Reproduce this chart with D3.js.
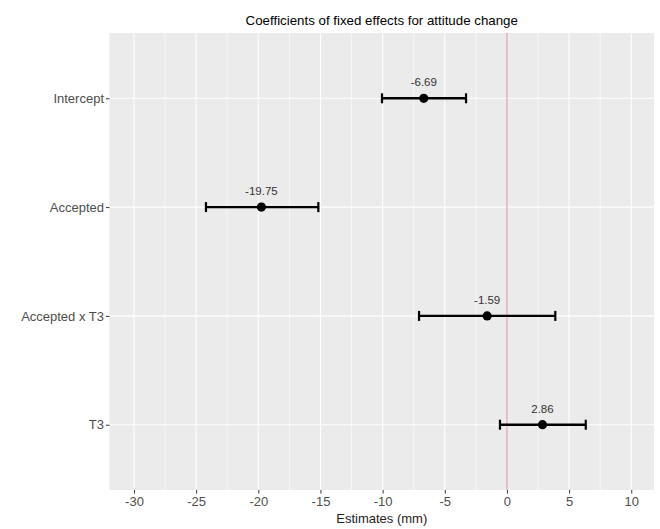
<!DOCTYPE html>
<html>
<head>
<meta charset="utf-8">
<script src="https://cdn.jsdelivr.net/npm/d3@7"></script>
<style>
  html, body { margin: 0; padding: 0; background: #fff; }
  svg { display: block; font-family: "Liberation Sans", Arial, sans-serif; }
</style>
</head>
<body>
<svg id="chart" width="660" height="529"></svg>
<script>
const categories = ["Intercept", "Accepted", "Accepted x T3", "T3"];
const estimates = [-6.69, -19.75, -1.59, 2.86];
const lower = [-10.05, -24.21, -7.07, -0.56];
const upper = [-3.29, -15.17, 3.89, 6.34];
const xTicks = [-30, -25, -20, -15, -10, -5, 0, 5, 10];
const xMinor = [-27.5, -22.5, -17.5, -12.5, -7.5, -2.5, 2.5, 7.5];
const titleText = "Coefficients of fixed effects for attitude change";
const xLabel = "Estimates (mm)";

const data = categories.map((c, i) => ({ cat: c, est: estimates[i], lo: lower[i], hi: upper[i] }));

const svg = d3.select("#chart");
const panel = { left: 109.5, right: 654, top: 33, bottom: 490 };

const x = d3.scaleLinear().domain([-31.97, 11.83]).range([panel.left, panel.right]);
const y = d3.scalePoint().domain(categories).range([panel.top, panel.bottom]).padding(0.6);

// panel background
svg.append("rect")
  .attr("x", panel.left).attr("y", panel.top)
  .attr("width", panel.right - panel.left).attr("height", panel.bottom - panel.top)
  .attr("fill", "#EBEBEB");

// minor grid
svg.append("g").selectAll("line").data(xMinor).join("line")
  .attr("x1", d => x(d)).attr("x2", d => x(d))
  .attr("y1", panel.top).attr("y2", panel.bottom)
  .attr("stroke", "#fff").attr("stroke-width", 0.6);

// major grid vertical
svg.append("g").selectAll("line").data(xTicks).join("line")
  .attr("x1", d => x(d)).attr("x2", d => x(d))
  .attr("y1", panel.top).attr("y2", panel.bottom)
  .attr("stroke", "#fff").attr("stroke-width", 1.1);

// major grid horizontal
svg.append("g").selectAll("line").data(categories).join("line")
  .attr("x1", panel.left).attr("x2", panel.right)
  .attr("y1", d => y(d)).attr("y2", d => y(d))
  .attr("stroke", "#fff").attr("stroke-width", 1.1);

// zero reference line
svg.append("line")
  .attr("x1", x(0)).attr("x2", x(0))
  .attr("y1", panel.top).attr("y2", panel.bottom)
  .attr("stroke", "#E3AEB5").attr("stroke-width", 1.5);

// axes
const xAxis = d3.axisBottom(x).tickValues(xTicks).tickSize(3.5).tickPadding(3)
  .tickFormat(d => d < 0 ? "-" + Math.abs(d) : String(d));
const gx = svg.append("g").attr("transform", `translate(0,${panel.bottom})`).call(xAxis);
gx.select(".domain").remove();
gx.selectAll(".tick line").attr("stroke", "#333").attr("stroke-width", 1);
gx.selectAll(".tick text").attr("fill", "#4D4D4D").attr("font-size", 13)
  .attr("font-family", "Liberation Sans, Arial, sans-serif");

const yAxis = d3.axisLeft(y).tickSize(3.5).tickPadding(2);
const gy = svg.append("g").attr("transform", `translate(${panel.left},0)`).call(yAxis);
gy.select(".domain").remove();
gy.selectAll(".tick line").attr("stroke", "#333").attr("stroke-width", 1);
gy.selectAll(".tick text").attr("fill", "#4D4D4D").attr("font-size", 13)
  .attr("font-family", "Liberation Sans, Arial, sans-serif");

// error bars
const eb = svg.append("g");
eb.selectAll("line.bar").data(data).join("line").attr("class", "bar")
  .attr("x1", d => x(d.lo)).attr("x2", d => x(d.hi))
  .attr("y1", d => y(d.cat)).attr("y2", d => y(d.cat))
  .attr("stroke", "#000").attr("stroke-width", 2.4);
eb.selectAll("line.capl").data(data).join("line").attr("class", "capl")
  .attr("x1", d => x(d.lo)).attr("x2", d => x(d.lo))
  .attr("y1", d => y(d.cat) - 5).attr("y2", d => y(d.cat) + 5)
  .attr("stroke", "#000").attr("stroke-width", 2.2);
eb.selectAll("line.caph").data(data).join("line").attr("class", "caph")
  .attr("x1", d => x(d.hi)).attr("x2", d => x(d.hi))
  .attr("y1", d => y(d.cat) - 5).attr("y2", d => y(d.cat) + 5)
  .attr("stroke", "#000").attr("stroke-width", 2.2);

// points
svg.append("g").selectAll("circle").data(data).join("circle")
  .attr("cx", d => x(d.est)).attr("cy", d => y(d.cat)).attr("r", 4.6)
  .attr("fill", "#000");

// value labels
svg.append("g").selectAll("text").data(data).join("text")
  .attr("x", d => x(d.est)).attr("y", d => y(d.cat) - 12)
  .attr("text-anchor", "middle").attr("font-size", 11.5).attr("fill", "#333")
  .text(d => d.est.toFixed(2));

// title
svg.append("text")
  .attr("x", (panel.left + panel.right) / 2).attr("y", 25)
  .attr("text-anchor", "middle").attr("font-size", 13.3).attr("fill", "#000")
  .text(titleText);

// x-axis label
svg.append("text")
  .attr("x", (panel.left + panel.right) / 2).attr("y", 523)
  .attr("text-anchor", "middle").attr("font-size", 13).attr("fill", "#222")
  .text(xLabel);
</script>
</body>
</html>
